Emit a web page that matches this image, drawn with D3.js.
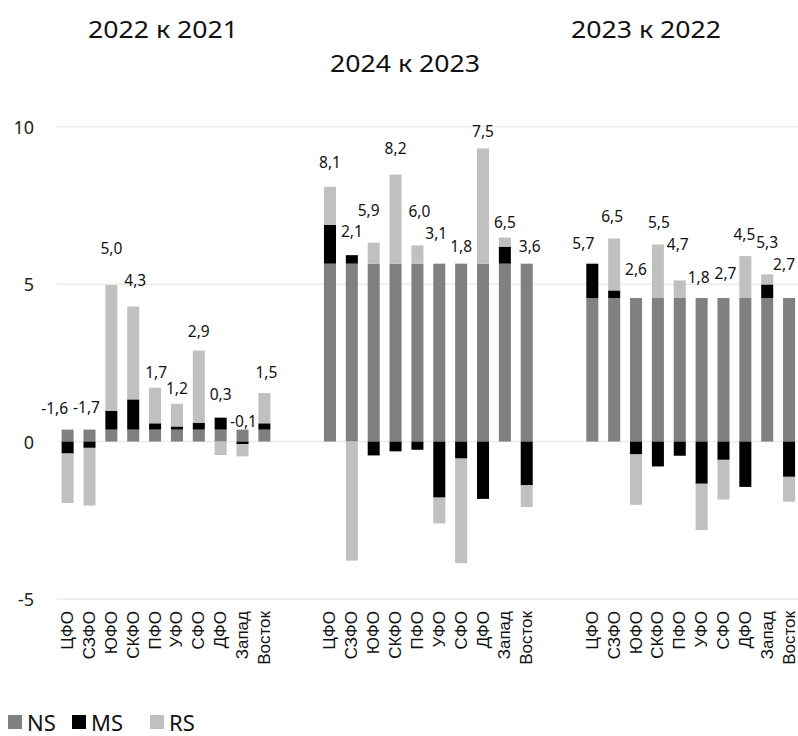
<!DOCTYPE html>
<html>
<head>
<meta charset="utf-8">
<script src="https://cdn.jsdelivr.net/npm/d3@7"></script>
<style>
  html, body { margin: 0; padding: 0; background: #fff; }
  svg { display: block; }
</style>
</head>
<body>
<div id="chart"></div>
<script>
// regions (same order in every block)
const regions = ["ЦФО", "СЗФО", "ЮФО", "СКФО", "ПФО", "УФО", "СФО", "ДФО", "Запад", "Восток"];
const seriesNames = ["NS", "MS", "RS"];

// block titles, in drawing order left -> right
const blockTitles = ["2022 к 2021", "2024 к 2023", "2023 к 2022"];

// 2022 к 2021
const ns1 = [0.38, 0.38, 0.38, 0.38, 0.38, 0.38, 0.38, 0.38, 0.38, 0.38];
const ms1 = [-0.38, -0.2, 0.6, 0.96, 0.2, 0.1, 0.21, 0.38, -0.08, 0.2];
const rs1 = [-1.57, -1.83, 3.99, 2.95, 1.13, 0.72, 2.3, -0.43, -0.39, 0.96];
const total1 = ["-1,6", "-1,7", "5,0", "4,3", "1,7", "1,2", "2,9", "0,3", "-0,1", "1,5"];

// 2024 к 2023
const ns2 = [5.65, 5.65, 5.65, 5.65, 5.65, 5.65, 5.65, 5.65, 5.65, 5.65];
const ms2 = [1.23, 0.27, -0.44, -0.31, -0.26, -1.78, -0.54, -1.82, 0.54, -1.39];
const rs2 = [1.21, -3.78, 0.67, 2.83, 0.58, -0.82, -3.32, 3.66, 0.29, -0.69];
const total2 = ["8,1", "2,1", "5,9", "8,2", "6,0", "3,1", "1,8", "7,5", "6,5", "3,6"];

// 2023 к 2022
const ns3 = [4.56, 4.56, 4.56, 4.56, 4.56, 4.56, 4.56, 4.56, 4.56, 4.56];
const ms3 = [1.09, 0.24, -0.41, -0.79, -0.45, -1.34, -0.58, -1.44, 0.43, -1.12];
const rs3 = [0.03, 1.65, -1.6, 1.7, 0.56, -1.47, -1.26, 1.33, 0.32, -0.79];
const total3 = ["5,7", "6,5", "2,6", "5,5", "4,7", "1,8", "2,7", "4,5", "5,3", "2,7"];

const yTicks = [-5, 0, 5, 10];

// ---- layout ----
const W = 798, H = 736;
const colors = { NS: "#808080", MS: "#000000", RS: "#c0c0c0" };
const blocks = [
  { ns: ns1, ms: ms1, rs: rs1, total: total1 },
  { ns: ns2, ms: ms2, rs: rs2, total: total2 },
  { ns: ns3, ms: ms3, rs: rs3, total: total3 }
];
// label placement tweaks [dx, lift above bar top], like hand-placed labels
const labelShift = [
  [[-13, 22], [-3, 23], [0, 37], [2, 26], [1, 16], [0, 16], [0, 20], [0, 24], [1, 9], [2, 21]],
  [[0, 25], [0, 24], [-5, 33], [0, 27], [2, 34], [-3, 31], [0, 18], [0, 17], [0, 16], [3, 18]],
  [[-9, 20], [-2, 22], [0, 29], [1, 22], [-2, 36], [-3, 21], [2, 25], [-1, 22], [0, 32], [-5, 34]]
];
const titlePos = [[163, 28], [405, 62], [646, 28]];

// rows for the stack, one per slot; two empty slots between blocks
const rows = [];
const slots = [];
blocks.forEach((b, bi) => {
  if (bi > 0) {
    slots.push("gap" + bi + "a", "gap" + bi + "b");
  }
  regions.forEach((r, i) => {
    const key = bi + "|" + r;
    slots.push(key);
    rows.push({ key, block: bi, idx: i, region: r, NS: b.ns[i], MS: b.ms[i], RS: b.rs[i], label: b.total[i] });
  });
});

const x = d3.scaleBand()
  .domain(slots)
  .range([56.7, 800])
  .paddingInner(0.45)
  .paddingOuter(0.225);

const y = d3.scaleLinear()
  .domain([-5, 10])
  .range([599, 126.7]);

const svg = d3.select("#chart").append("svg")
  .attr("width", W)
  .attr("height", H)
  .attr("font-family", "'Noto Sans', sans-serif");

// grid
svg.append("g").attr("class", "grid")
  .selectAll("line").data(yTicks).join("line")
  .attr("x1", 57).attr("x2", W)
  .attr("y1", d => y(d)).attr("y2", d => y(d))
  .attr("stroke", "#ebebeb")
  .attr("stroke-width", 1.5);

// y axis labels
svg.append("g").attr("class", "y-labels")
  .selectAll("text").data(yTicks).join("text")
  .attr("x", 34)
  .attr("y", d => y(d))
  .attr("text-anchor", "end")
  .attr("dominant-baseline", "central")
  .attr("font-size", 18)
  .attr("fill", "#222")
  .text(d => d);

// stacked bars, positive up / negative down
const stacked = d3.stack()
  .keys(seriesNames)
  .offset(d3.stackOffsetDiverging)(rows);

svg.append("g").attr("class", "bars")
  .selectAll("g").data(stacked).join("g")
  .attr("fill", d => colors[d.key])
  .selectAll("rect").data(d => d).join("rect")
  .attr("x", d => x(d.data.key))
  .attr("width", x.bandwidth())
  .attr("y", d => y(Math.max(d[0], d[1])))
  .attr("height", d => Math.abs(y(d[0]) - y(d[1])));

// total labels above the top of each bar
const topOf = r => seriesNames.reduce((s, k) => s + Math.max(0, r[k]), 0);
svg.append("g").attr("class", "totals")
  .selectAll("text").data(rows).join("text")
  .attr("x", d => x(d.key) + x.bandwidth() / 2 + labelShift[d.block][d.idx][0])
  .attr("y", d => y(topOf(d)) - labelShift[d.block][d.idx][1])
  .attr("text-anchor", "middle")
  .attr("dominant-baseline", "central")
  .attr("font-size", 15.5)
  .attr("fill", "#111")
  .text(d => d.label);

// category labels, rotated
svg.append("g").attr("class", "x-labels")
  .selectAll("text").data(rows).join("text")
  .attr("transform", d => `translate(${x(d.key) + x.bandwidth() / 2},611) rotate(-90)`)
  .attr("text-anchor", "end")
  .attr("dominant-baseline", "central")
  .attr("font-family", "'Liberation Sans', Arial, sans-serif")
  .attr("font-size", 17)
  .attr("fill", "#111")
  .text(d => d.region);

// block titles
svg.append("g").attr("class", "titles")
  .selectAll("text").data(blockTitles).join("text")
  .attr("x", (d, i) => titlePos[i][0])
  .attr("y", (d, i) => titlePos[i][1])
  .attr("text-anchor", "middle")
  .attr("dominant-baseline", "central")
  .attr("font-size", 24)
  .attr("textLength", 150)
  .attr("lengthAdjust", "spacingAndGlyphs")
  .attr("fill", "#111")
  .text(d => d);

// legend
const legendX = [8, 72, 150];
const legend = svg.append("g").attr("class", "legend")
  .selectAll("g").data(seriesNames).join("g")
  .attr("transform", (d, i) => `translate(${legendX[i]},722)`);
legend.append("rect")
  .attr("x", 0).attr("y", -7)
  .attr("width", 14).attr("height", 14)
  .attr("fill", d => colors[d]);
legend.append("text")
  .attr("x", 19)
  .attr("y", 0)
  .attr("dominant-baseline", "central")
  .attr("font-size", 22)
  .attr("fill", "#111")
  .text(d => d);
</script>
</body>
</html>
